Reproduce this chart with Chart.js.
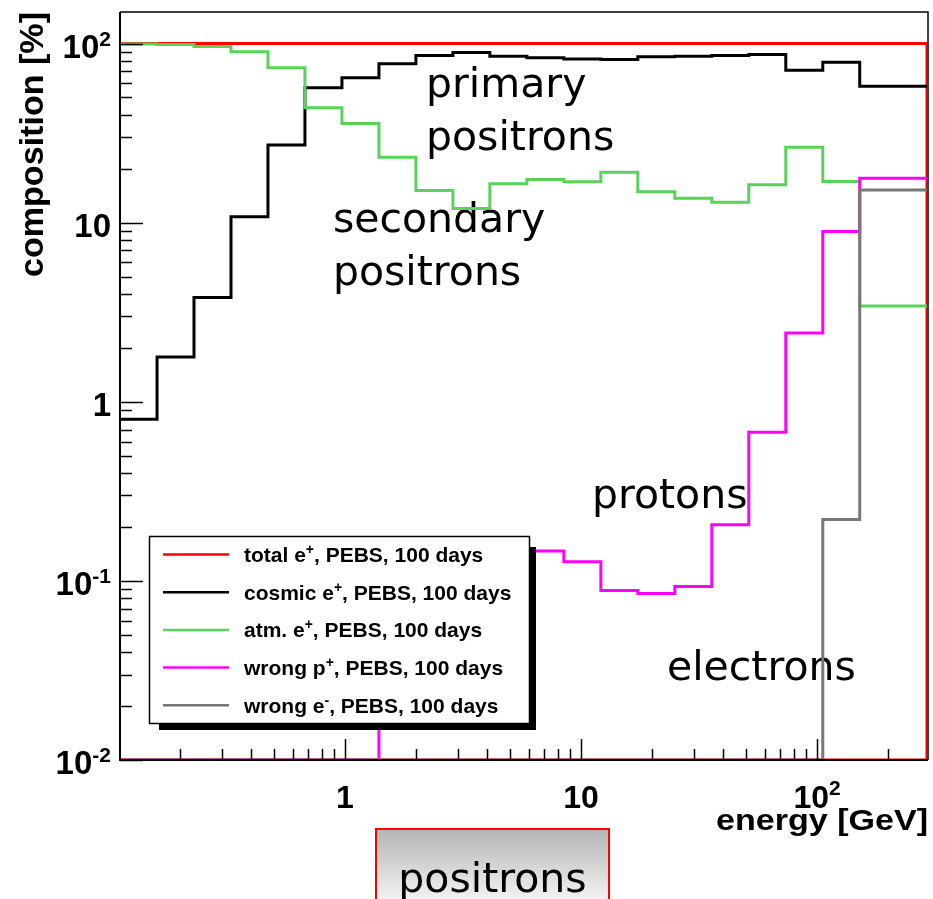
<!DOCTYPE html>
<html><head><meta charset="utf-8">
<script src="https://cdn.jsdelivr.net/npm/chart.js@4.4.1/dist/chart.umd.min.js"></script>
<style>html,body{margin:0;padding:0;background:#fff;}canvas{display:block}</style>
</head><body>
<canvas id="c" width="933" height="899"></canvas>
<script>
// ---- data ----
const binEdges = [0.1114,0.1599,0.2293,0.3290,0.4718,0.6768,0.9710,1.393,1.998,2.867,4.111,5.898,8.460,12.14,17.41,24.98,35.83,51.40,73.74,105.8,151.7,292.4];
const totalPositrons  = [100,100,100,100,100,100,100,100,100,100,100,100,100,100,100,100,100,100,100,100,100];
const cosmicPositrons = [0.80,1.78,3.82,10.8,27.1,56.6,64.4,77.0,85.7,89.1,84.9,83.2,82.1,81.4,84.3,84.9,85.7,86.8,71.0,78.7,57.8];
const atmPositrons    = [99.5,98.7,96.2,89.9,73.2,43.8,35.8,23.2,15.1,12.0,16.5,17.4,16.9,19.1,14.9,13.7,13.0,16.3,26.4,17.0,3.42];
const wrongProtons    = [0,0,0,0,0,0,0,0.10,0.13,0.14,0.15,0.147,0.128,0.0885,0.0849,0.093,0.206,0.676,2.42,8.92,17.7];
const wrongElectrons  = [0,0,0,0,0,0,0,0,0,0,0,0,0,0,0,0,0,0,0,0.220,15.2];
const seriesLabels = ['total e^{+}, PEBS, 100 days','cosmic e^{+}, PEBS, 100 days','atm. e^{+}, PEBS, 100 days','wrong p^{+}, PEBS, 100 days','wrong e^{-}, PEBS, 100 days'];
const yTickValues = [0.01,0.1,1,10,100];
const yTickLabels = ['10^{-2}','10^{-1}','1','10','10^{2}'];
const xTickValues = [1,10,100];
const xTickLabels = ['1','10','10^{2}'];
const xRange = [0.1114, 292.4];
const yRange = [0.01, 150];
const annotations = [
  {lines:['primary','positrons'], x:2.204, y:50.6},
  {lines:['secondary','positrons'], x:0.889, y:8.82},
  {lines:['protons'], x:11.13, y:0.254},
  {lines:['electrons'], x:23.14, y:0.0279}
];

// ---- helpers ----
function histPoints(vals, closed){
  const pts = [];
  for (let i=0;i<vals.length;i++) pts.push({x:binEdges[i], y:Math.max(vals[i], yRange[0])});
  pts.push({x:binEdges[vals.length], y:Math.max(vals[vals.length-1], yRange[0])});
  if (closed){ pts.push({x:binEdges[vals.length], y:yRange[0]}); pts.push({x:binEdges[0], y:yRange[0]}); }
  return pts;
}
function parseSup(s){
  const out=[]; const re=/\^\{([^}]*)\}/g; let last=0,m;
  while((m=re.exec(s))){ if(m.index>last) out.push([s.slice(last,m.index),false]); out.push([m[1],true]); last=re.lastIndex; }
  if(last<s.length) out.push([s.slice(last),false]);
  return out;
}
function drawRich(ctx, s, x, y, align, size, supSize, rise){
  const parts = parseSup(s);
  let w=0; const ws=[];
  for (const [t,sup] of parts){ ctx.font='bold '+(sup?supSize:size)+'px "Liberation Sans", Arial, sans-serif'; const ww=ctx.measureText(t).width; ws.push(ww); w+=ww; }
  let x0 = align==='right'? x-w : align==='center'? x-w/2 : x;
  ctx.textAlign='left'; ctx.textBaseline='alphabetic';
  parts.forEach(([t,sup],i)=>{ ctx.font='bold '+(sup?supSize:size)+'px "Liberation Sans", Arial, sans-serif'; ctx.fillText(t, x0, sup? y-rise : y); x0+=ws[i]; });
}

const colors = ['#ff0000','#000000','#5ad25a','#ff00ff','#777777'];

const decor = {
  id:'decor',
  beforeDatasetsDraw(chart){
    const ctx=chart.ctx, xs=chart.scales.x, ys=chart.scales.y;
    ctx.save();
    ctx.fillStyle='#000';
    ctx.font='41px "DejaVu Sans", sans-serif';
    ctx.textAlign='left'; ctx.textBaseline='alphabetic';
    for (const a of annotations){
      const px=xs.getPixelForValue(a.x), py=ys.getPixelForValue(a.y);
      a.lines.forEach((l,i)=>ctx.fillText(l, px, py+i*53));
    }
    ctx.restore();
  },
  afterDatasetsDraw(chart){
    const ctx=chart.ctx, ca=chart.chartArea, xs=chart.scales.x, ys=chart.scales.y;
    ctx.save();
    // frame
    ctx.strokeStyle='#000';
    ctx.lineWidth=1.5;
    ctx.beginPath(); ctx.moveTo(ca.left, ca.top); ctx.lineTo(ca.right+1, ca.top); ctx.lineTo(ca.right+1, ca.bottom); ctx.stroke();
    ctx.lineWidth=2;
    ctx.beginPath(); ctx.moveTo(ca.left, ca.top); ctx.lineTo(ca.left, ca.bottom); ctx.lineTo(ca.right+1, ca.bottom); ctx.stroke();
    // y ticks
    ctx.lineWidth=1.5;
    ctx.beginPath();
    for (let e=-2;e<=2;e++){
      for (let k=1;k<=9;k++){
        const v=k*Math.pow(10,e); if (v<yRange[0]||v>yRange[1]) continue;
        const py=Math.round(ys.getPixelForValue(v))+0.5;
        ctx.moveTo(ca.left, py); ctx.lineTo(ca.left+(k===1?23:12), py);
      }
    }
    // x ticks
    for (let e=-1;e<=2;e++){
      for (let k=1;k<=9;k++){
        const v=k*Math.pow(10,e); if (v<xRange[0]||v>xRange[1]) continue;
        const px=Math.round(xs.getPixelForValue(v))+0.5;
        ctx.moveTo(px, ca.bottom); ctx.lineTo(px, ca.bottom-(k===1?21:11));
      }
    }
    ctx.stroke();
    // tick labels
    ctx.fillStyle='#000';
    yTickValues.forEach((v,i)=>{ drawRich(ctx, yTickLabels[i], ca.left-9, ys.getPixelForValue(v)+14, 'right', 33, 21, 12); });
    xTickValues.forEach((v,i)=>{ drawRich(ctx, xTickLabels[i], xs.getPixelForValue(v), ca.bottom+48, 'center', 32, 21, 13); });
    // axis titles
    ctx.font='bold 30px "Liberation Sans", Arial, sans-serif';
    ctx.textAlign='right'; ctx.textBaseline='alphabetic';
    { const t='energy [GeV]'; const w=ctx.measureText(t).width; const target=212;
      ctx.save(); ctx.translate(928, 830); ctx.scale(target/w,1); ctx.fillText(t,0,0); ctx.restore(); }
    { const t='composition [%]'; ctx.font='bold 33px "Liberation Sans", Arial, sans-serif'; const w=ctx.measureText(t).width; const target=265;
      ctx.save(); ctx.translate(43, 144.5); ctx.rotate(-Math.PI/2); ctx.scale(target/w,1); ctx.textAlign='center'; ctx.fillText(t,0,0); ctx.restore(); }
    // legend
    const lx=149, ly=536, lw=380, lh=187;
    ctx.fillStyle='#000'; ctx.fillRect(159, 547, 377, 183);
    ctx.fillStyle='#fff'; ctx.fillRect(lx, ly, lw, lh);
    ctx.strokeStyle='#000'; ctx.lineWidth=1.5; ctx.strokeRect(lx+0.5, ly+0.5, lw, lh);
    seriesLabels.forEach((lab,i)=>{
      const cy = 554.5 + i*37.7;
      ctx.strokeStyle=colors[i]; ctx.lineWidth=2.5;
      ctx.beginPath(); ctx.moveTo(163, cy); ctx.lineTo(229, cy); ctx.stroke();
      ctx.fillStyle='#000';
      drawRich(ctx, lab, 244, cy+7.5, 'left', 21, 14, 8);
    });
    // "positrons" box
    const bx=376, by=829, bw=233, bh=80;
    const g=ctx.createLinearGradient(0,by,0,by+70);
    g.addColorStop(0,'#b4b4b4'); g.addColorStop(1,'#f2f2f2');
    ctx.fillStyle=g; ctx.fillRect(bx,by,bw,bh);
    ctx.strokeStyle='#ff0000'; ctx.lineWidth=2; ctx.strokeRect(bx,by,bw,bh);
    ctx.fillStyle='#000'; ctx.font='41px "DejaVu Sans", sans-serif'; ctx.textAlign='center'; ctx.textBaseline='alphabetic';
    ctx.fillText('positrons', bx+bw/2, 891.5);
    ctx.restore();
  }
};

const mk = (label, vals, i, order, closed) => ({
  label, data: histPoints(vals, closed), borderColor: colors[i], borderWidth: 3,
  stepped: 'before', pointRadius: 0, fill: false, order, clip: 0, tension: 0
});

new Chart(document.getElementById('c'), {
  type: 'line',
  data: { datasets: [
    mk('total', totalPositrons, 0, 5, true),
    mk('cosmic', cosmicPositrons, 1, 4, false),
    mk('atm', atmPositrons, 2, 3, false),
    mk('wrong p', wrongProtons, 3, 2, false),
    mk('wrong e', wrongElectrons, 4, 1, false)
  ]},
  options: {
    responsive: false, animation: false, devicePixelRatio: 1,
    layout: { padding: { left: 120, right: 6, top: 12, bottom: 139 } },
    scales: {
      x: { type: 'logarithmic', min: xRange[0], max: xRange[1], display: false },
      y: { type: 'logarithmic', min: yRange[0], max: yRange[1], display: false }
    },
    plugins: { legend: { display: false }, tooltip: { enabled: false } },
    events: []
  },
  plugins: [decor]
});
</script>
</body></html>
